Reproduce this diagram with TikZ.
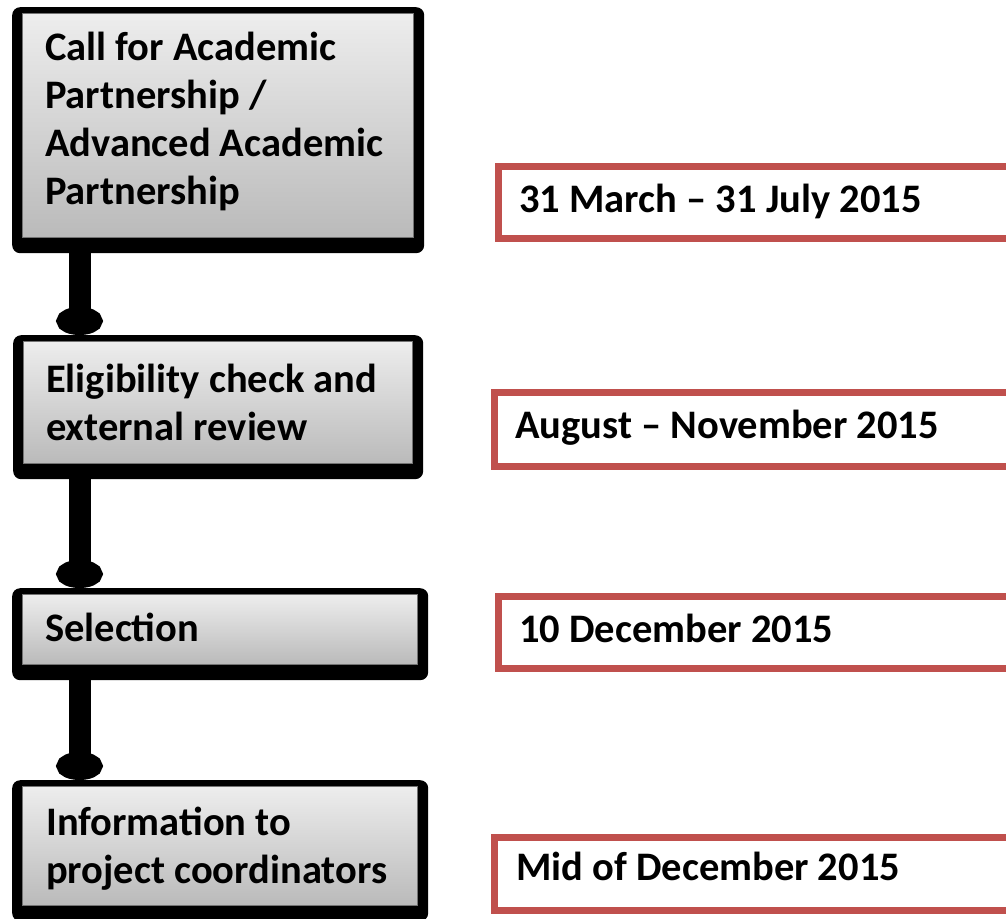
\documentclass[tikz,border=0pt]{standalone}
\usepackage{fontspec}
\setmainfont{Carlito}
\usetikzlibrary{arrows.meta,calc}
\definecolor{datered}{RGB}{192,80,77}
\tikzset{
  stepbox/.style={fill=black, rounded corners=8pt, inner sep=0pt, anchor=north west},
  stepfill/.style={top color=black!7, bottom color=black!27, draw=black!55, line width=0.8pt},
  steptext/.style={font=\bfseries\fontsize{40.5}{48}\selectfont, align=left, inner sep=0pt, anchor=base west},
  datebox/.style={draw=datered, line width=6.5pt, fill=white, inner sep=0pt, anchor=north west},
  datetext/.style={font=\bfseries\fontsize{40.5}{48}\selectfont, inner sep=0pt, anchor=base west},
  conn/.style={line width=22pt, black, -{Circle[length=28pt,width=46pt]}}
}
\begin{document}
\begin{tikzpicture}[x=1pt,y=-1pt]
\useasboundingbox (0,0) rectangle (1006,918);
% step boxes
\node[stepbox, minimum width=412pt, minimum height=246pt] (s1) at (12,7) {};
\node[stepbox, minimum width=410pt, minimum height=144pt] (s2) at (13,335) {};
\node[stepbox, minimum width=416pt, minimum height=92pt] (s3) at (12,588) {};
\node[stepbox, minimum width=416pt, minimum height=141pt] (s4) at (12,780) {};
\foreach \s in {s1,s2,s3,s4}{
  \shade[stepfill] ($(\s.north west)+(10.5,6.5)$) rectangle ($(\s.south east)+(-11,-16)$);
}
% connectors
\coordinate (c1) at ($(s1.south west)+(67.5,0)$);
\coordinate (c2) at ($(s2.south west)+(66.5,0)$);
\coordinate (c3) at ($(s3.south west)+(67.5,0)$);
\draw[conn] (c1) -- (c1 |- s2.north);
\draw[conn] (c2) -- (c2 |- s3.north);
\draw[conn] (c3) -- (c3 |- s4.north);
% step texts (anchored at the baseline of the last line)
\node[steptext] (t1) at (45,204) {Call for Academic\\Partnership /\\Advanced Academic\\Partnership};
\node[steptext] (t2) at (46,440) {Eligibility check and\\external review};
\node[steptext] (t3) at (45,641) {Selection};
\node[steptext] (t4) at (46,883) {Information to\\project coordinators};
% date boxes
\node[datebox, minimum width=530pt, minimum height=72pt] (d1) at (495.25,163.25) {};
\node[datebox, minimum width=530pt, minimum height=74pt] (d2) at (491.25,389.25) {};
\node[datebox, minimum width=530pt, minimum height=72pt] (d3) at (495.25,593.25) {};
\node[datebox, minimum width=530pt, minimum height=73pt] (d4) at (491.25,834.25) {};
\node[datetext] (e1) at (519,212) {31 March – 31 July 2015};
\node[datetext] (e2) at (515,438) {August – November 2015};
\node[datetext] (e3) at (519,642) {10 December 2015};
\node[datetext] (e4) at (516,880) {Mid of December 2015};
\end{tikzpicture}
\end{document}
